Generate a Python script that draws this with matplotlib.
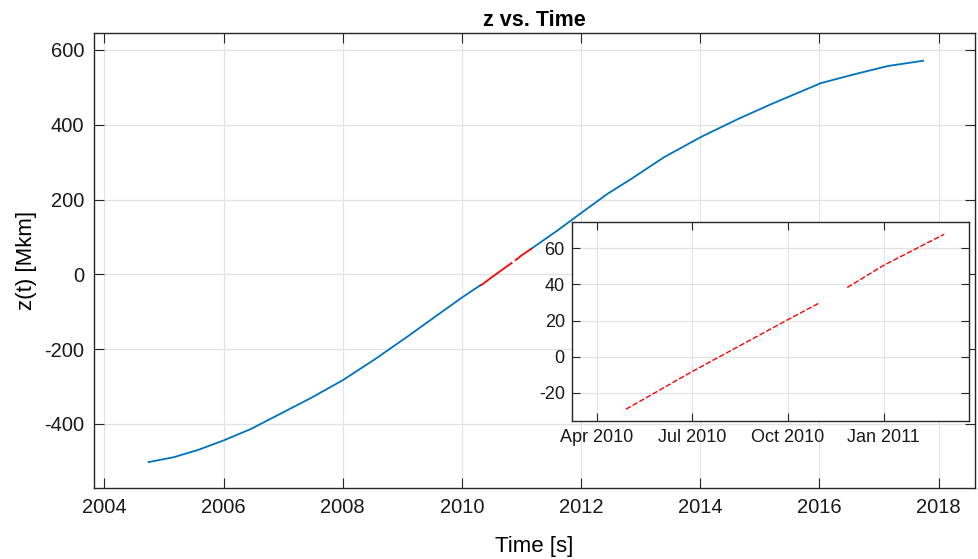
import numpy as np
import matplotlib.pyplot as plt
import matplotlib.dates as mdates
from datetime import date

plt.rcParams['font.family'] = ['Liberation Sans', 'DejaVu Sans']
plt.rcParams['axes.unicode_minus'] = False

# z(t): decimal years, Mkm
t_blue = [2004.74, 2005.16, 2005.58, 2006.0, 2006.45, 2006.95, 2007.46, 2008.0, 2008.52,
          2009.08, 2009.64, 2010.0, 2010.31,
          2011.16, 2011.6, 2012.01, 2012.44, 2012.84, 2013.39, 2014.02, 2014.63, 2015.19,
          2016.02, 2016.59, 2017.15, 2017.74]
z_blue = [-502, -489, -469, -444, -414, -373, -331, -283, -229,
          -167, -103, -62, -29,
          68, 117, 165, 215, 255, 313, 368, 415, 455,
          511, 535, 557, 571]

# highlighted (red) stretch, two pieces with a gap in Nov 2010
red_dates_1 = [date(2010, 4, 29), date(2010, 7, 1), date(2010, 10, 1), date(2010, 11, 1)]
red_z_1 = [-29, -8.3, 20.5, 30.0]
red_dates_2 = [date(2010, 11, 27), date(2011, 1, 1), date(2011, 2, 28)]
red_z_2 = [38.3, 50.6, 67.8]

inset_ticks = [date(2010, 4, 1), date(2010, 7, 1), date(2010, 10, 1), date(2011, 1, 1)]

blue = '#0072BD'
dark = '#262626'
gridc = '#e3e3e3'


def dec_year(d):
    return d.year + (d.timetuple().tm_yday - 1) / 365.25


def style(ax, size, ticklen):
    for s in ax.spines.values():
        s.set_color(dark)
        s.set_linewidth(1.0)
    ax.tick_params(direction='in', top=True, right=True, length=ticklen, width=0.8,
                   colors=dark, labelcolor='#1a1a1a', labelsize=size)
    ax.grid(True, color=gridc, linewidth=0.9)
    ax.set_axisbelow(True)


fig = plt.figure(figsize=(9.79, 5.59), dpi=100)
ax = fig.add_axes([0.096, 0.1265, 0.8999, 0.815])

t_b = np.array(t_blue)
z_b = np.array(z_blue)
red_start = dec_year(red_dates_1[0])
red_end = dec_year(red_dates_2[-1])
lo = t_b <= red_start + 0.01
hi = t_b >= red_end - 0.01
ax.plot(t_b[lo], z_b[lo], color=blue, lw=1.3)
ax.plot(t_b[hi], z_b[hi], color=blue, lw=1.3)

for ds, zs in [(red_dates_1, red_z_1), (red_dates_2, red_z_2)]:
    ax.plot([dec_year(d) for d in ds], zs, color='red', lw=1.3)

ax.set_xlim(2003.824, 2018.61)
ax.set_ylim(-572, 646)
ax.set_xticks(range(2004, 2019, 2))
ax.set_yticks(range(-400, 601, 200))
style(ax, 14.5, 7)
ax.tick_params(axis='x', pad=7)
ax.tick_params(axis='y', pad=7)
ax.set_xlabel('Time [s]', fontsize=16)
ax.set_ylabel('z(t) [Mkm]', fontsize=16)
ax.xaxis.set_label_coords(0.5, -0.105)
ax.yaxis.set_label_coords(-0.065, 0.5)
ax.set_title('z vs. Time', fontsize=15.5, fontweight='bold', pad=5)

# inset zoom on the red stretch
ax_in = fig.add_axes([0.584, 0.2469, 0.4061, 0.3555])
ax_in.set_facecolor('white')
for ds, zs in [(red_dates_1, red_z_1), (red_dates_2, red_z_2)]:
    ax_in.plot(mdates.date2num(ds), zs, color='red', lw=1.0, linestyle=(0, (4, 1.5)))
ax_in.set_xlim(mdates.date2num(date(2010, 3, 8)), mdates.date2num(date(2011, 3, 24)))
ax_in.set_ylim(-35.5, 74.4)
ax_in.set_xticks(mdates.date2num(inset_ticks))
ax_in.xaxis.set_major_formatter(mdates.DateFormatter('%b %Y'))
ax_in.set_yticks(range(-20, 61, 20))
style(ax_in, 13, 5.5)
ax_in.tick_params(axis='x', pad=6)
ax_in.tick_params(axis='y', pad=5)

fig.savefig('out.png', dpi=100)
